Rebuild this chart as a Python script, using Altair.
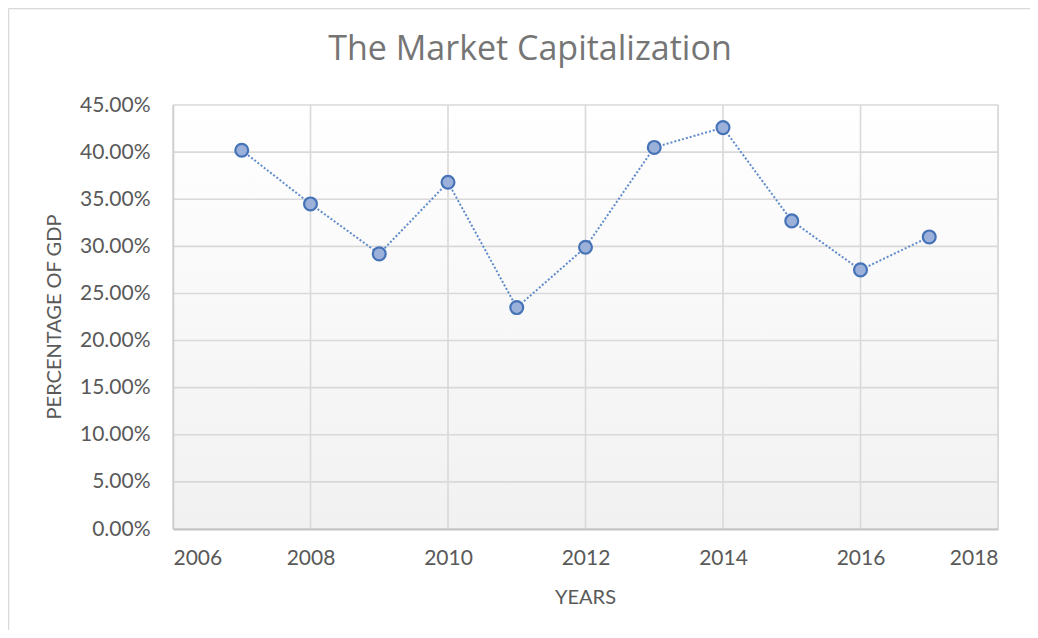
import altair as alt
import pandas as pd

years = [2007, 2008, 2009, 2010, 2011, 2012, 2013, 2014, 2015, 2016, 2017]
values = [0.402, 0.345, 0.292, 0.368, 0.235, 0.299, 0.405, 0.426, 0.327, 0.275, 0.310]
x_ticks = [2006, 2008, 2010, 2012, 2014, 2016, 2018]
y_ticks = [0.0, 0.05, 0.10, 0.15, 0.20, 0.25, 0.30, 0.35, 0.40, 0.45]
title_text = "The Market Capitalization"
x_title = "YEARS"
y_title = "PERCENTAGE OF GDP"

FONT = "Lato"
TXT = "#595959"
GRID = "#d9d9d9"
W, H = 825, 424

df = pd.DataFrame({"year": years, "value": values})
xs = alt.Scale(domain=[2006, 2018], nice=False, zero=False)
ys = alt.Scale(domain=[0, 0.45], nice=False)

x_enc = alt.X("year:Q", scale=xs,
              axis=alt.Axis(values=x_ticks, format="d", title=None, grid=False, ticks=False, zindex=1,
                            labelPadding=18, labelFontSize=21, labelColor=TXT, labelFont=FONT,
                            domainColor="#c4c4c4", domainWidth=1.8))
y_enc = alt.Y("value:Q", scale=ys,
              axis=alt.Axis(values=y_ticks, format=".2%", title=None, grid=False, ticks=False, zindex=1,
                            labelPadding=23, labelFontSize=21, labelColor=TXT, labelFont=FONT,
                            domainColor="#d0d0d0", domainWidth=1.6))

tdf = pd.DataFrame({"t": [title_text]})

bg = alt.Chart(tdf).mark_rect(
    fill=alt.Gradient(gradient="linear",
                      stops=[alt.GradientStop(color="#ffffff", offset=0),
                             alt.GradientStop(color="#f1f1f1", offset=1)],
                      x1=0, x2=0, y1=0, y2=1)
).encode(x=alt.value(0), x2=alt.value(W), y=alt.value(0), y2=alt.value(H))

vgrid = alt.Chart(pd.DataFrame({"year": x_ticks})).mark_rule(color=GRID, strokeWidth=1.6).encode(
    x=alt.X("year:Q", scale=xs))
hgrid = alt.Chart(pd.DataFrame({"value": y_ticks})).mark_rule(color=GRID, strokeWidth=1.6).encode(
    y=alt.Y("value:Q", scale=ys))

base = alt.Chart(df)
line = base.mark_line(color="#5f8bcb", strokeWidth=2, strokeDash=[2, 2]).encode(x=x_enc, y=y_enc)
pts = base.mark_point(filled=True, shape="circle", size=165, fill="#9cb1da", stroke="#4673b8",
                      strokeWidth=2.2, opacity=1).encode(x=x_enc, y=y_enc)

title = alt.Chart(tdf).mark_text(font="Open Sans", fontSize=34, color="#757575", baseline="alphabetic",
                                 align="center", fontWeight=400).encode(
    text="t:N", x=alt.value(357), y=alt.value(60 - 105))

xt = alt.Chart(pd.DataFrame({"t": [x_title]})).mark_text(font=FONT, fontSize=20, color=TXT,
                                                         baseline="middle", align="center").encode(
    text="t:N", x=alt.value(W / 2), y=alt.value(598 - 105))

yt = alt.Chart(pd.DataFrame({"t": [y_title]})).mark_text(font=FONT, fontSize=20, color=TXT,
                                                         baseline="middle", align="center", angle=270).encode(
    text="t:N", x=alt.value(55 - 173), y=alt.value(H / 2))

frame_l = alt.Chart(tdf).mark_rule(color="#d9d9d9", strokeWidth=1.5).encode(
    x=alt.value(-164.5), y=alt.value(-96.5), y2=alt.value(H + 110))
frame_t = alt.Chart(tdf).mark_rule(color="#d9d9d9", strokeWidth=1.5).encode(
    x=alt.value(-164.5), x2=alt.value(W + 40), y=alt.value(-96.5))

chart = alt.layer(frame_l, frame_t, bg, vgrid, hgrid, line, pts, title, xt, yt).properties(
    width=W, height=H,
    autosize=alt.AutoSizeParams(type="none"),
    padding={"left": 165, "top": 97, "right": 32, "bottom": 101},
).configure_view(stroke=None).configure(background="white")

chart.save("out.html", embed_options={"renderer": "svg", "actions": False})
